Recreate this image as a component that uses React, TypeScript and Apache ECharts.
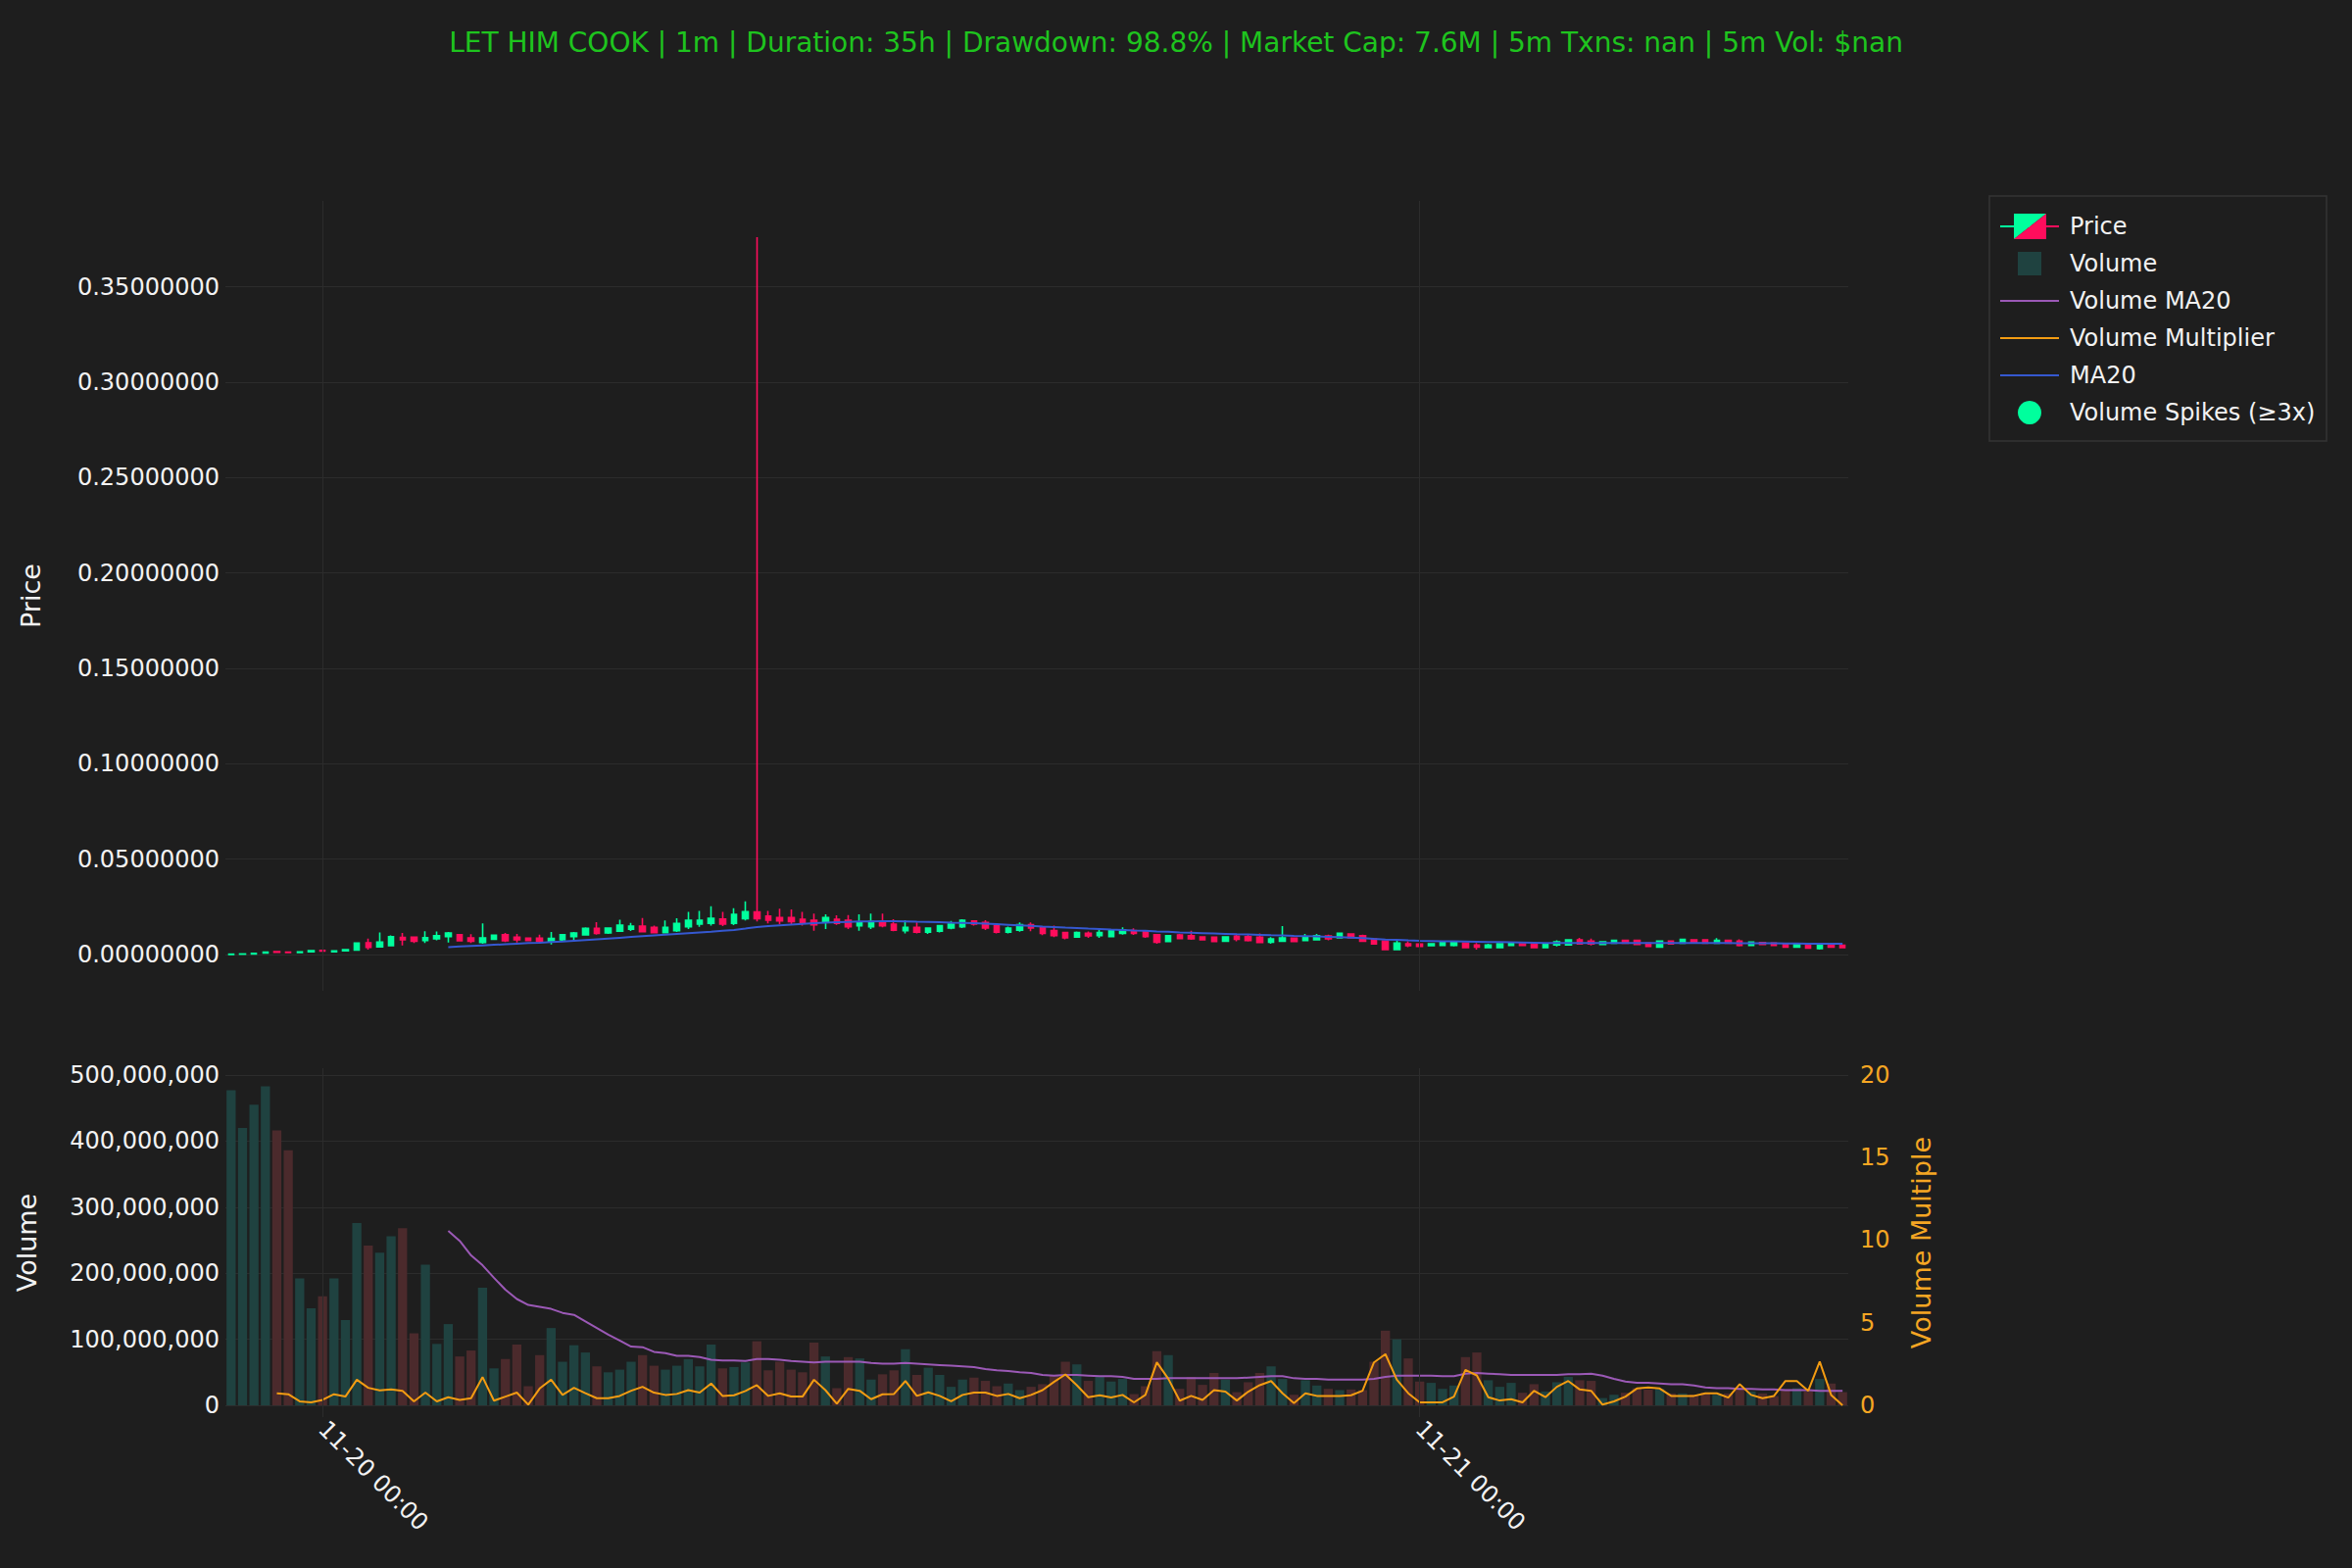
import React, { useEffect, useRef } from "react";
import * as echarts from "echarts";

// ---------- data (15-minute candles, 11-19 22:00 -> 11-21 09:15) ----------
const START_DAY = 19;
const START_MINUTE = 22 * 60;
const STEP_MINUTES = 15;

const OPEN = [
  0.0000, 0.0002, 0.0003, 0.0008, 0.0015, 0.0012, 0.0010, 0.0014, 0.0022, 0.0015,
  0.0019, 0.0023, 0.0062, 0.0040, 0.0046, 0.0090, 0.0091, 0.0074, 0.0082, 0.0094,
  0.0104, 0.0087, 0.0063, 0.0080, 0.0104, 0.0091, 0.0086, 0.0086, 0.0067, 0.0077,
  0.0094, 0.0103, 0.0137, 0.0113, 0.0122, 0.0132, 0.0149, 0.0142, 0.0115, 0.0125,
  0.0145, 0.0160, 0.0163, 0.0186, 0.0163, 0.0188, 0.0223, 0.0202, 0.0194, 0.0194,
  0.0185, 0.0180, 0.0168, 0.0185, 0.0180, 0.0151, 0.0146, 0.0173, 0.0159, 0.0125,
  0.0142, 0.0117, 0.0122, 0.0139, 0.0146, 0.0176, 0.0168, 0.0151, 0.0117, 0.0128,
  0.0156, 0.0142, 0.0125, 0.0116, 0.0091, 0.0111, 0.0099, 0.0094, 0.0111, 0.0125,
  0.0121, 0.0104, 0.0068, 0.0103, 0.0099, 0.0092, 0.0091, 0.0070, 0.0096, 0.0094,
  0.0091, 0.0065, 0.0070, 0.0086, 0.0074, 0.0077, 0.0098, 0.0087, 0.0108, 0.0099,
  0.0082, 0.0070, 0.0026, 0.0056, 0.0055, 0.0046, 0.0048, 0.0048, 0.0060, 0.0050,
  0.0036, 0.0036, 0.0048, 0.0056, 0.0056, 0.0036, 0.0050, 0.0051, 0.0077, 0.0070,
  0.0053, 0.0060, 0.0074, 0.0074, 0.0060, 0.0039, 0.0070, 0.0060, 0.0077, 0.0077,
  0.0060, 0.0074, 0.0070, 0.0048, 0.0063, 0.0060, 0.0053, 0.0039, 0.0051, 0.0031,
  0.0053, 0.0048,
];

const CLOSE = [
  0.0002, 0.0003, 0.0006, 0.0013, 0.0012, 0.0010, 0.0014, 0.0020, 0.0018, 0.0019,
  0.0025, 0.0060, 0.0037, 0.0065, 0.0094, 0.0077, 0.0070, 0.0089, 0.0099, 0.0113,
  0.0072, 0.0070, 0.0087, 0.0101, 0.0072, 0.0077, 0.0074, 0.0068, 0.0084, 0.0104,
  0.0113, 0.0137, 0.0111, 0.0139, 0.0154, 0.0149, 0.0120, 0.0115, 0.0142, 0.0163,
  0.0179, 0.0179, 0.0190, 0.0160, 0.0210, 0.0224, 0.0188, 0.0180, 0.0176, 0.0173,
  0.0168, 0.0156, 0.0194, 0.0163, 0.0146, 0.0168, 0.0173, 0.0151, 0.0128, 0.0142,
  0.0117, 0.0139, 0.0151, 0.0159, 0.0180, 0.0159, 0.0139, 0.0117, 0.0139, 0.0156,
  0.0139, 0.0111, 0.0099, 0.0087, 0.0116, 0.0098, 0.0116, 0.0125, 0.0130, 0.0111,
  0.0094, 0.0065, 0.0099, 0.0084, 0.0082, 0.0077, 0.0068, 0.0092, 0.0080, 0.0074,
  0.0063, 0.0082, 0.0087, 0.0068, 0.0094, 0.0099, 0.0082, 0.0111, 0.0087, 0.0070,
  0.0056, 0.0026, 0.0060, 0.0046, 0.0043, 0.0056, 0.0063, 0.0065, 0.0036, 0.0039,
  0.0050, 0.0056, 0.0060, 0.0048, 0.0036, 0.0056, 0.0067, 0.0077, 0.0056, 0.0056,
  0.0067, 0.0074, 0.0060, 0.0053, 0.0043, 0.0070, 0.0056, 0.0079, 0.0065, 0.0060,
  0.0074, 0.0060, 0.0048, 0.0065, 0.0053, 0.0048, 0.0039, 0.0053, 0.0034, 0.0048,
  0.0039, 0.0036,
];

const LOW = [
  0.0000, 0.0002, 0.0003, 0.0006, 0.0010, 0.0009, 0.0010, 0.0014, 0.0017, 0.0015,
  0.0019, 0.0022, 0.0026, 0.0036, 0.0043, 0.0048, 0.0060, 0.0060, 0.0074, 0.0063,
  0.0070, 0.0060, 0.0056, 0.0080, 0.0065, 0.0063, 0.0072, 0.0058, 0.0053, 0.0067,
  0.0068, 0.0101, 0.0104, 0.0108, 0.0118, 0.0123, 0.0115, 0.0111, 0.0111, 0.0118,
  0.0133, 0.0145, 0.0152, 0.0149, 0.0154, 0.0178, 0.0173, 0.0163, 0.0159, 0.0156,
  0.0151, 0.0125, 0.0134, 0.0156, 0.0134, 0.0125, 0.0134, 0.0142, 0.0122, 0.0111,
  0.0111, 0.0108, 0.0115, 0.0132, 0.0139, 0.0151, 0.0128, 0.0111, 0.0111, 0.0120,
  0.0122, 0.0101, 0.0091, 0.0080, 0.0087, 0.0087, 0.0087, 0.0091, 0.0104, 0.0103,
  0.0087, 0.0056, 0.0065, 0.0080, 0.0077, 0.0074, 0.0065, 0.0067, 0.0070, 0.0068,
  0.0060, 0.0056, 0.0067, 0.0065, 0.0070, 0.0074, 0.0074, 0.0084, 0.0084, 0.0067,
  0.0053, 0.0022, 0.0024, 0.0039, 0.0041, 0.0045, 0.0046, 0.0043, 0.0034, 0.0026,
  0.0034, 0.0034, 0.0046, 0.0046, 0.0034, 0.0034, 0.0043, 0.0048, 0.0053, 0.0048,
  0.0051, 0.0058, 0.0058, 0.0051, 0.0041, 0.0038, 0.0055, 0.0058, 0.0063, 0.0058,
  0.0058, 0.0058, 0.0043, 0.0046, 0.0051, 0.0046, 0.0038, 0.0038, 0.0033, 0.0026,
  0.0038, 0.0034,
];

const HIGH = [
  0.0002, 0.0003, 0.0006, 0.0016, 0.0016, 0.0013, 0.0015, 0.0021, 0.0024, 0.0020,
  0.0026, 0.0063, 0.0084, 0.0115, 0.0100, 0.0113, 0.0092, 0.0122, 0.0121, 0.0118,
  0.0104, 0.0106, 0.0163, 0.0104, 0.0113, 0.0108, 0.0087, 0.0104, 0.0118, 0.0108,
  0.0118, 0.0142, 0.0170, 0.0142, 0.0183, 0.0166, 0.0192, 0.0151, 0.0179, 0.0190,
  0.0224, 0.0228, 0.0253, 0.0224, 0.0243, 0.0279, 0.3760, 0.0228, 0.0240, 0.0236,
  0.0224, 0.0214, 0.0211, 0.0205, 0.0207, 0.0211, 0.0214, 0.0214, 0.0185, 0.0180,
  0.0168, 0.0142, 0.0154, 0.0176, 0.0185, 0.0180, 0.0180, 0.0163, 0.0146, 0.0168,
  0.0168, 0.0147, 0.0151, 0.0116, 0.0121, 0.0121, 0.0139, 0.0130, 0.0142, 0.0137,
  0.0125, 0.0108, 0.0103, 0.0108, 0.0125, 0.0094, 0.0092, 0.0094, 0.0104, 0.0104,
  0.0111, 0.0091, 0.0149, 0.0087, 0.0108, 0.0108, 0.0104, 0.0116, 0.0111, 0.0104,
  0.0084, 0.0070, 0.0074, 0.0070, 0.0056, 0.0058, 0.0065, 0.0070, 0.0062, 0.0060,
  0.0056, 0.0058, 0.0062, 0.0058, 0.0058, 0.0058, 0.0074, 0.0080, 0.0087, 0.0084,
  0.0068, 0.0075, 0.0075, 0.0075, 0.0062, 0.0072, 0.0072, 0.0080, 0.0079, 0.0079,
  0.0086, 0.0075, 0.0080, 0.0067, 0.0065, 0.0062, 0.0055, 0.0055, 0.0053, 0.0050,
  0.0055, 0.0050,
];

const PRICE_MA20 = [
  null, null, null, null, null, null, null, null, null, null,
  null, null, null, null, null, null, null, null, null,
  0.0039, 0.0042, 0.0045, 0.0048, 0.0051, 0.0054, 0.0057, 0.0060, 0.0062, 0.0065,
  0.0068, 0.0072, 0.0076, 0.0080, 0.0084, 0.0088, 0.0092, 0.0096, 0.0100, 0.0104,
  0.0108, 0.0112, 0.0116, 0.0120, 0.0125, 0.0129, 0.0136, 0.0144, 0.0149, 0.0153,
  0.0157, 0.0161, 0.0164, 0.0167, 0.0169, 0.0171, 0.0173, 0.0174, 0.0175, 0.0175,
  0.0174, 0.0172, 0.0171, 0.0169, 0.0167, 0.0166, 0.0164, 0.0162, 0.0159, 0.0156,
  0.0153, 0.0150, 0.0146, 0.0144, 0.0141, 0.0139, 0.0136, 0.0134, 0.0131, 0.0129,
  0.0126, 0.0124, 0.0121, 0.0119, 0.0116, 0.0114, 0.0112, 0.0110, 0.0108, 0.0106,
  0.0105, 0.0103, 0.0101, 0.0100, 0.0098, 0.0097, 0.0095, 0.0093, 0.0091, 0.0089,
  0.0086, 0.0082, 0.0079, 0.0077, 0.0074, 0.0072, 0.0071, 0.0070, 0.0069, 0.0068,
  0.0067, 0.0066, 0.0065, 0.0064, 0.0063, 0.0062, 0.0061, 0.0061, 0.0061, 0.0061,
  0.0061, 0.0061, 0.0061, 0.0061, 0.0061, 0.0061, 0.0060, 0.0060, 0.0060, 0.0060,
  0.0060, 0.0060, 0.0060, 0.0059, 0.0059, 0.0059, 0.0059, 0.0058, 0.0058, 0.0057,
  0.0057, 0.0056, 0.0056,
];

const VOLUME = [
  477e6, 420e6, 455e6, 483e6, 416e6, 386e6, 192e6, 147e6, 165e6, 192e6,
  129e6, 276e6, 242e6, 231e6, 256e6, 268e6, 109e6, 213e6, 93e6, 123e6,
  74e6, 83e6, 178e6, 56e6, 70e6, 92e6, 29e6, 76e6, 117e6, 66e6,
  91e6, 80e6, 59e6, 50e6, 54e6, 66e6, 76e6, 60e6, 54e6, 60e6,
  70e6, 59e6, 92e6, 56e6, 58e6, 65e6, 97e6, 53e6, 66e6, 54e6,
  50e6, 95e6, 74e6, 26e6, 73e6, 71e6, 39e6, 47e6, 53e6, 85e6,
  46e6, 57e6, 46e6, 28e6, 39e6, 42e6, 37e6, 29e6, 33e6, 23e6,
  28e6, 32e6, 45e6, 66e6, 62e6, 37e6, 43e6, 36e6, 40e6, 17e6,
  29e6, 82e6, 76e6, 25e6, 43e6, 31e6, 49e6, 39e6, 20e6, 35e6,
  49e6, 59e6, 40e6, 16e6, 38e6, 30e6, 25e6, 23e6, 24e6, 23e6,
  66e6, 113e6, 100e6, 71e6, 36e6, 34e6, 25e6, 30e6, 73e6, 80e6,
  38e6, 28e6, 34e6, 19e6, 32e6, 21e6, 35e6, 43e6, 38e6, 37e6,
  11e6, 16e6, 19e6, 26e6, 24e6, 25e6, 18e6, 18e6, 16e6, 19e6,
  16e6, 18e6, 26e6, 21e6, 18e6, 14e6, 24e6, 26e6, 21e6, 40e6,
  33e6, 20e6,
];

const VOLUME_MA20 = [
  null, null, null, null, null, null, null, null, null, null,
  null, null, null, null, null, null, null, null, null,
  264e6, 249e6, 227e6, 212e6, 193e6, 175e6, 161e6, 152e6, 149e6, 146e6,
  140e6, 137e6, 127e6, 117e6, 107e6, 98e6, 89e6, 88e6, 81e6, 79e6,
  75e6, 75e6, 73e6, 69e6, 68e6, 68e6, 67e6, 70e6, 70e6, 69e6,
  67e6, 66e6, 65e6, 66e6, 66e6, 66e6, 66e6, 64e6, 63e6, 63e6,
  64e6, 63e6, 62e6, 61e6, 60e6, 59e6, 58e6, 55e6, 53e6, 52e6,
  50e6, 49e6, 46e6, 45e6, 46e6, 46e6, 45e6, 44e6, 44e6, 43e6,
  40e6, 40e6, 40e6, 41e6, 41e6, 41e6, 41e6, 41e6, 41e6, 41e6,
  42e6, 43e6, 44e6, 44e6, 41e6, 40e6, 40e6, 39e6, 39e6, 39e6,
  39e6, 40e6, 43e6, 45e6, 45e6, 45e6, 45e6, 44e6, 44e6, 48e6,
  49e6, 48e6, 47e6, 46e6, 46e6, 46e6, 46e6, 46e6, 47e6, 47e6,
  48e6, 45e6, 40e6, 36e6, 34e6, 34e6, 33e6, 32e6, 32e6, 30e6,
  27e6, 26e6, 26e6, 25e6, 25e6, 24e6, 24e6, 23e6, 23e6, 23e6,
  22e6, 22e6, 22e6,
];

const VOLUME_MULTIPLIER = [
  null, null, null, null,
  0.73, 0.67, 0.24, 0.18, 0.33, 0.67,
  0.53, 1.55, 1.06, 0.90, 0.96, 0.87, 0.24, 0.77, 0.24, 0.49,
  0.33, 0.43, 1.71, 0.28, 0.53, 0.77, 0.04, 1.02, 1.55, 0.63,
  1.06, 0.73, 0.43, 0.43, 0.57, 0.88, 1.12, 0.77, 0.63, 0.69,
  0.92, 0.77, 1.32, 0.57, 0.61, 0.87, 1.22, 0.57, 0.73, 0.53,
  0.53, 1.55, 0.92, 0.10, 1.00, 0.88, 0.37, 0.67, 0.69, 1.47,
  0.57, 0.79, 0.57, 0.24, 0.63, 0.77, 0.77, 0.57, 0.69, 0.43,
  0.63, 0.92, 1.42, 1.87, 1.22, 0.49, 0.61, 0.47, 0.63, 0.18,
  0.63, 2.60, 1.61, 0.28, 0.57, 0.33, 0.92, 0.83, 0.29, 0.83,
  1.22, 1.47, 0.73, 0.14, 0.73, 0.57, 0.57, 0.57, 0.61, 0.88,
  2.60, 3.10, 1.55, 0.73, 0.18, 0.18, 0.18, 0.53, 2.14, 1.81,
  0.49, 0.29, 0.37, 0.18, 0.88, 0.49, 1.12, 1.47, 0.96, 0.88,
  0.04, 0.24, 0.53, 1.02, 1.08, 1.02, 0.57, 0.57, 0.57, 0.73,
  0.73, 0.47, 1.28, 0.63, 0.43, 0.57, 1.47, 1.47, 0.88, 2.65,
  0.63, 0.00,
];

const VOLUME_SPIKES: [string, number][] = [];

const PRICE_TICKS = [0, 0.05, 0.1, 0.15, 0.2, 0.25, 0.3, 0.35];
const VOLUME_TICKS = [0, 100000000, 200000000, 300000000, 400000000, 500000000];
const MULT_TICKS = [0, 5, 10, 15, 20];

const TITLE =
  "LET HIM COOK | 1m | Duration: 35h | Drawdown: 98.8% | Market Cap: 7.6M | 5m Txns: nan | 5m Vol: $nan";

// ---------- style ----------
const FONT = "DejaVu Sans";
const BG = "#1e1e1e";
const GRID = "#2c2c2c";
const TEXT = "#f2f2f2";
const UP = "#00ff9d";
const DOWN = "#ff0d5c";
const VOL_UP = "#1f4240";
const VOL_DOWN = "#4b2a2c";
const MA_BLUE = "#3558d0";
const PURPLE = "#9b59b6";
const ORANGE = "#f39c12";
const ORANGE_TEXT = "#f5a623";
const TITLE_GREEN = "#1ec41e";
const TICK_SIZE = 24;

const pad = (n: number) => (n < 10 ? "0" + n : "" + n);
const TIMES = OPEN.map((_, i) => {
  const t = START_MINUTE + STEP_MINUTES * i;
  const day = START_DAY + Math.floor(t / 1440);
  const m = t % 1440;
  return `11-${day} ${pad(Math.floor(m / 60))}:${pad(m % 60)}`;
});
const DAY_TICKS = TIMES.filter((t) => t.endsWith(" 00:00"));

function buildOption() {
  const candles = OPEN.map((o, i) => [o, CLOSE[i], LOW[i], HIGH[i]]);
  const volBars = VOLUME.map((v, i) => ({
    value: v,
    itemStyle: { color: CLOSE[i] >= OPEN[i] ? VOL_UP : VOL_DOWN },
  }));

  const gridLineMark = {
    silent: true,
    symbol: ["none", "none"],
    label: { show: false },
    lineStyle: { color: GRID, width: 1, type: "solid" },
    data: DAY_TICKS.map((t) => ({ xAxis: t })),
    animation: false,
  };

  const legendY = [231, 269, 307, 345, 383, 421];
  const legendNames = ["Price", "Volume", "Volume MA20", "Volume Multiplier", "MA20", "Volume Spikes (≥3x)"];
  const textX = 2112;

  const graphic: any[] = [
    { type: "text", x: 31, y: 608, rotation: Math.PI / 2, style: { text: "Price", fill: TEXT, fontSize: 27, fontFamily: FONT, align: "center", verticalAlign: "middle" } },
    { type: "text", x: 27, y: 1268, rotation: Math.PI / 2, style: { text: "Volume", fill: TEXT, fontSize: 27, fontFamily: FONT, align: "center", verticalAlign: "middle" } },
    { type: "text", x: 1960, y: 1268, rotation: Math.PI / 2, style: { text: "Volume Multiple", fill: ORANGE_TEXT, fontSize: 27, fontFamily: FONT, align: "center", verticalAlign: "middle" } },
    // legend box
    { type: "rect", shape: { x: 2030, y: 200, width: 344, height: 250 }, style: { fill: "transparent", stroke: "#353535", lineWidth: 1.5 } },
    // Price icon
    { type: "line", shape: { x1: 2041, y1: legendY[0], x2: 2071, y2: legendY[0] }, style: { stroke: UP, lineWidth: 2 } },
    { type: "line", shape: { x1: 2071, y1: legendY[0], x2: 2101, y2: legendY[0] }, style: { stroke: DOWN, lineWidth: 2 } },
    { type: "polygon", shape: { points: [[2055, 218], [2088, 218], [2055, 244]] }, style: { fill: UP } },
    { type: "polygon", shape: { points: [[2088, 218], [2088, 244], [2055, 244]] }, style: { fill: DOWN } },
    // Volume icon
    { type: "rect", shape: { x: 2059, y: legendY[1] - 12, width: 24, height: 24 }, style: { fill: VOL_UP } },
    // lines
    { type: "line", shape: { x1: 2041, y1: legendY[2], x2: 2101, y2: legendY[2] }, style: { stroke: PURPLE, lineWidth: 2 } },
    { type: "line", shape: { x1: 2041, y1: legendY[3], x2: 2101, y2: legendY[3] }, style: { stroke: ORANGE, lineWidth: 2 } },
    { type: "line", shape: { x1: 2041, y1: legendY[4], x2: 2101, y2: legendY[4] }, style: { stroke: MA_BLUE, lineWidth: 2 } },
    { type: "circle", shape: { cx: 2071, cy: legendY[5], r: 12 }, style: { fill: UP } },
  ];
  legendNames.forEach((n, i) => {
    graphic.push({
      type: "text",
      x: textX,
      y: legendY[i],
      style: { text: n, fill: TEXT, fontSize: 24, fontFamily: FONT, align: "left", verticalAlign: "middle" },
    });
  });

  return {
    animation: false,
    backgroundColor: BG,
    textStyle: { fontFamily: FONT },
    title: {
      text: TITLE,
      left: "center",
      top: 24,
      textStyle: { color: TITLE_GREEN, fontSize: 28, fontWeight: "normal", fontFamily: FONT },
    },
    legend: { show: false },
    grid: [
      { left: 230, right: 514, top: 205, height: 806 },
      { left: 230, right: 514, top: 1090, height: 356 },
    ],
    xAxis: [
      {
        gridIndex: 0,
        type: "category",
        data: TIMES,
        boundaryGap: true,
        axisLine: { show: false },
        axisTick: { show: false },
        axisLabel: { show: false },
        splitLine: { show: false },
      },
      {
        gridIndex: 1,
        type: "category",
        data: TIMES,
        boundaryGap: true,
        axisLine: { show: false },
        axisTick: { show: false },
        axisLabel: {
          show: true,
          interval: (_idx: number, val: string) => val.endsWith(" 00:00"),
          rotate: -45,
          color: TEXT,
          fontSize: TICK_SIZE,
          fontFamily: FONT,
          margin: 8,
        },
        splitLine: { show: false },
      },
    ],
    yAxis: [
      {
        gridIndex: 0,
        type: "value",
        min: -0.019,
        max: 0.395,
        axisLine: { show: false },
        axisTick: { show: false, customValues: PRICE_TICKS },
        axisLabel: {
          customValues: PRICE_TICKS,
          formatter: (v: number) => v.toFixed(8),
          color: TEXT,
          fontSize: TICK_SIZE,
          fontFamily: FONT,
          margin: 6,
        },
        splitLine: { show: true, lineStyle: { color: GRID, width: 1 } },
      },
      {
        gridIndex: 1,
        type: "value",
        min: -17800000,
        max: 510400000,
        axisLine: { show: false },
        axisTick: { show: false, customValues: VOLUME_TICKS },
        axisLabel: {
          customValues: VOLUME_TICKS,
          formatter: (v: number) => Math.round(v).toLocaleString("en-US"),
          color: TEXT,
          fontSize: TICK_SIZE,
          fontFamily: FONT,
          margin: 6,
        },
        splitLine: { show: true, lineStyle: { color: GRID, width: 1 } },
      },
      {
        gridIndex: 1,
        type: "value",
        position: "right",
        min: -0.712,
        max: 20.415,
        axisLine: { show: false },
        axisTick: { show: false, customValues: MULT_TICKS },
        axisLabel: {
          customValues: MULT_TICKS,
          color: ORANGE_TEXT,
          fontSize: TICK_SIZE,
          fontFamily: FONT,
          margin: 12,
        },
        splitLine: { show: false },
      },
    ],
    series: [
      {
        name: "_gridx0",
        type: "line",
        xAxisIndex: 0,
        yAxisIndex: 0,
        data: [],
        z: 0,
        silent: true,
        markLine: gridLineMark,
      },
      {
        name: "_gridx1",
        type: "line",
        xAxisIndex: 1,
        yAxisIndex: 1,
        data: [],
        z: 0,
        silent: true,
        markLine: gridLineMark,
      },
      {
        name: "Price",
        type: "candlestick",
        xAxisIndex: 0,
        yAxisIndex: 0,
        data: candles,
        barWidth: 6,
        itemStyle: {
          color: UP,
          color0: DOWN,
          borderColor: UP,
          borderColor0: DOWN,
          borderWidth: 1.6,
        },
        z: 3,
      },
      {
        name: "MA20",
        type: "line",
        xAxisIndex: 0,
        yAxisIndex: 0,
        data: PRICE_MA20,
        showSymbol: false,
        symbol: "none",
        lineStyle: { color: MA_BLUE, width: 2 },
        itemStyle: { color: MA_BLUE },
        z: 4,
      },
      {
        name: "Volume Spikes (≥3x)",
        type: "scatter",
        xAxisIndex: 0,
        yAxisIndex: 0,
        data: VOLUME_SPIKES,
        symbolSize: 14,
        itemStyle: { color: UP },
        z: 5,
      },
      {
        name: "Volume",
        type: "bar",
        xAxisIndex: 1,
        yAxisIndex: 1,
        data: volBars,
        barWidth: "80%",
        z: 2,
      },
      {
        name: "Volume MA20",
        type: "line",
        xAxisIndex: 1,
        yAxisIndex: 1,
        data: VOLUME_MA20,
        showSymbol: false,
        symbol: "none",
        lineStyle: { color: PURPLE, width: 2 },
        itemStyle: { color: PURPLE },
        z: 3,
      },
      {
        name: "Volume Multiplier",
        type: "line",
        xAxisIndex: 1,
        yAxisIndex: 2,
        data: VOLUME_MULTIPLIER,
        showSymbol: false,
        symbol: "none",
        lineStyle: { color: ORANGE, width: 2 },
        itemStyle: { color: ORANGE },
        z: 4,
      },
    ],
    graphic,
  };
}

export default function App() {
  const ref = useRef<HTMLDivElement>(null);
  useEffect(() => {
    document.body.style.margin = "0";
    document.body.style.background = BG;
    const chart = echarts.init(ref.current!, null, { renderer: "svg" });
    chart.setOption(buildOption() as any);
    return () => chart.dispose();
  }, []);
  return <div ref={ref} style={{ width: 2400, height: 1600, background: BG }} />;
}
